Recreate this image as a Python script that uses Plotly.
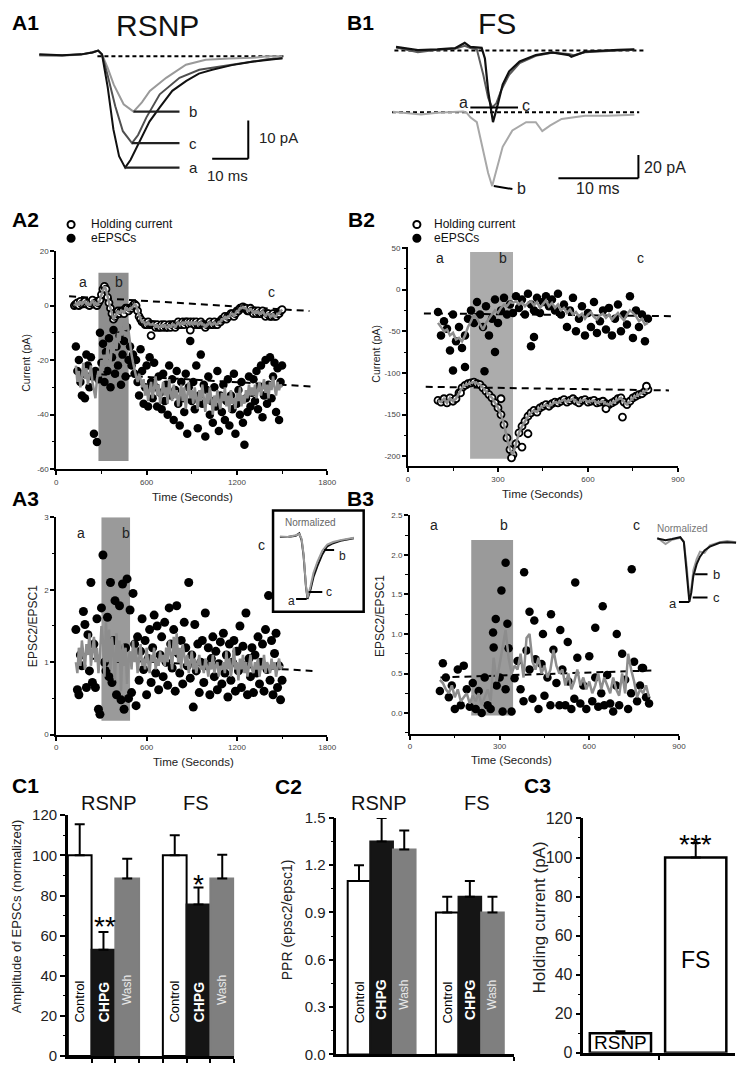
import plotly.graph_objects as go

# The page places the plot 8 px from the top-left corner; the figure is sized so that it ends at 750x1069.
OX, OY = 8, 8
W, H = 742, 1061
FONT = "Liberation Sans, Arial, sans-serif"

# ======================= DATA =======================
# A1  RSNP averaged eEPSC traces (time ms, current pA)
a1_time_a = [2, 8, 13, 16, 17.5, 18.5, 20, 21.5, 23, 24.6, 26, 28.5, 31, 33.7, 37, 40.7, 44, 47.5, 52.7, 58, 62, 66]
a1_trace_a = [0.5, 0.3, 0.5, 1, 1.5, 0.5, -8, -19, -26, -29, -27, -21.8, -17, -13.3, -9, -6.4, -4.5, -3.5, -2.3, -1.4, -1, -0.5]
a1_time_c = [2, 8, 13, 16, 17.5, 18.5, 20, 22, 24, 26.4, 28, 30.2, 33.7, 38.9, 44.1, 51, 58, 62, 66]
a1_trace_c = [0.3, 0.2, 0.5, 1, 1.5, 0.5, -5, -13, -19.5, -22.6, -20.5, -15.9, -9.9, -5.6, -3.5, -2.4, -1.4, -0.8, -0.5]
a1_time_b = [2, 8, 13, 16, 17.5, 18.5, 20, 21.6, 24.2, 26.8, 29, 31.1, 35.4, 40.6, 45.8, 52, 58, 62, 66]
a1_trace_b = [0.3, 0.2, 0.4, 1, 1.5, 0.5, -3, -7.4, -12.5, -14.4, -12, -9, -5.6, -2.2, -0.9, -0.6, -0.4, 0, 0]

# B1  FS averaged eEPSC traces (time ms, current pA)
b1_time_a = [1.2, 3.9, 6.3, 8.5, 9.7, 10.4, 11.8, 12.2, 12.6, 13.2, 13.8, 14.4, 15.2, 16.5, 18.5, 20.5, 22.6, 22.9, 24.6, 26.6, 28.7, 30.7]
b1_trace_a = [3, 0.3, 1, 2, 6.4, 3, 2.2, -6.7, -34, -60.8, -45.6, -28.9, -17.8, -9.4, -3.9, -1.7, -3.9, -5.3, -1, 0, 0.5, 1]
b1_time_c = [1.2, 3.9, 6.3, 8.5, 9.7, 10.4, 11.2, 12, 12.6, 13.1, 13.6, 14.2, 15.2, 16.5, 18.5, 20.5, 22.6, 23.2, 24.6, 26.6, 28.7, 30.7]
b1_trace_c = [2.5, -1.5, 0.5, 1.5, 4, 2, 1, -20.6, -40, -48.3, -45, -34, -20.6, -10.8, -4.5, -2, -3, -4, -1.5, -0.5, 0, 0.5]
b1_time_b = [0.8, 4.3, 6.3, 9.5, 9.9, 10.4, 11.2, 12, 12.6, 13.1, 13.8, 14.4, 15.6, 17.3, 18.5, 19.3, 20.3, 21.7, 24.6, 27.4, 30.7]
b1_trace_b = [0.6, -1.9, -0.3, 0.8, 0, -4.2, -8.3, -31.9, -51.4, -62.5, -45.8, -29.2, -15.3, -8.3, -8.3, -15.8, -11.1, -5.6, -2.8, -2.8, -2]

# A2  RSNP time course (s); holding current and eEPSC amplitude (pA)
a2_hold_t0, a2_hold_dt = 120, 10
a2_hold = [0, 0.5, 1, 0, 1.5, 0.5, 1, 1.5, 0.5, 1, 0, 1, 2, 0.5, 1, 0, 1,
           2, 4, 6, 7, 6, 3, 1,
           -1, -3, -5, -4, -3, -2, -3,
           -2, -2, -3, -1, -1, -2, -1, -1,
           0, 0.5, 0, -2, -4, -5,
           -6, -6, -7, -7, -6, -7, -7, -7, -7, -8, -7, -8, -8, -7,
           -8, -7, -8, -8, -7, -8, -7, -7, -8, -7, -6, -7, -7, -6, -7, -6, -6, -7, -6, -7,
           -6, -7, -6, -7, -7, -6, -7, -7, -8, -7, -7, -6, -7, -7, -6, -7, -7, -6, -6, -5,
           -5, -4, -5, -4, -4, -3, -3, -4, -3, -2, -2, -1, -1, -0.5, -1,
           -1, -2, -2, -1, -2, -3, -2, -3, -2, -3, -3, -2, -3, -4, -3, -3, -4, -4, -3, -4, -4, -3, -3, -2, -1.5]
a2_hold_out_t = [630, 890]
a2_hold_out = [-11, -9]
a2_epsc_t0, a2_epsc_dt = 130, 10
a2_epsc = [-15, -24, -20, -28, -33, -25, -34, -18,
           -22, -30, -19, -26, -47, -24, -50, -27,
           -10, -21, -14, -28, -17, -24, -12, -30, -19, -9, -25, -15, -22, -11, -29, -18, -13, -26, -8, -20,
           -15, -22, -18, -25, -20, -28, -33, -16,
           -24, -36, -30, -22, -37, -19, -28, -34, -21, -30, -37, -26, -32, -38,
           -25, -35, -29, -40, -22, -33, -27, -42, -31, -24, -36, -44, -28, -34, -39, -25, -47, -30, -13, -35,
           -28, -38, -22, -45, -33, -18, -36, -29, -48, -31, -26, -40, -35, -43, -30, -37, -24, -46, -33, -39,
           -29, -42, -35, -27, -44, -33, -38, -25, -47, -36, -31, -40, -28, -43, -51, -34, -39, -26, -37, -32,
           -27, -35, -24, -38, -30, -22, -41, -33, -20, -36, -29, -19, -34, -26, -21, -39, -23, -42, -28, -22]
a2_epsc_avg = [-22, -28, -24, -30, -26, -21, -27, -23, -29, -25, -22, -28, -31, -34, -27, -24,
               -26, -20, -24, -18, -22, -15, -19, -21, -14, -17, -12, -16, -10, -13, -8, -11, -6, -9, -5, -10,
               -14, -18, -21, -24, -26, -28, -25, -27,
               -30, -27, -33, -29, -35, -31, -28, -34, -30, -26, -33, -29, -36, -31,
               -28, -33, -30, -36, -27, -32, -35, -29, -34, -31, -37, -33, -29, -35, -30, -38, -32, -28, -34, -31,
               -36, -30, -34, -38, -31, -35, -29, -33, -39, -32, -36, -30, -34, -40, -33, -37, -31, -35, -38, -32,
               -35, -30, -37, -33, -39, -31, -36, -34, -38, -32, -35, -30, -37, -33, -36, -31, -34, -29, -33, -30,
               -33, -29, -34, -31, -28, -33, -30, -27, -32, -29, -34, -28, -31, -26, -30, -33, -28, -31, -29, -30]
a2_fit_hold_t, a2_fit_hold = [85, 1682], [3.4, -2.0]
a2_fit_epsc_t, a2_fit_epsc = [130, 1702], [-24.7, -29.7]
a2_drug = [280, 480]

# B2  FS time course
b2_t0, b2_dt = 100, 10
b2_hold = [-133, -135, -131, -136, -130, -134, -131,
           -124, -118, -115, -113,
           -112, -111, -113, -114, -118, -122,
           -126, -130, -136, -142, -150, -162, -178, -192,
           -198,
           -185, -172, -164, -158, -152, -148, -145,
           -147, -142, -140, -138, -140, -137, -135, -136,
           -134, -132, -135, -133, -131, -134, -136, -133, -132, -135, -134, -133, -136, -135, -134, -137, -138, -136, -134, -131,
           -130, -135, -138, -134, -130, -128, -126, -125, -122, -120]
b2_hold_out_t = [175, 310, 345, 380, 400, 660, 715, 795]
b2_hold_out = [-124, -131, -202, -189, -173, -143, -153, -116]
b2_epsc = [-27, -55, -38, -47, -73, -30, -62, -45, -70, -55, -35,
           -25, -40, -15, -30, -45, -20, -55, -35, -12, -40, -25, -10, -30, -18, -28,
           -8, -22, -12, -30, -5, -18, -25, -10, -28, -15, -8, -20, -12, -25, -5,
           -30, -18, -45, -25, -10, -50, -35, -20, -55, -28, -45, -15, -52, -38, -25,
           -48, -22, -55, -35, -18, -50, -30, -42, -8, -58, -25, -45, -30, -62, -35]
b2_epsc_out_t = [150, 190, 255, 290, 410, 420]
b2_epsc_out = [-97, -93, -98, -75, -68, -57]
b2_epsc_avg = [-40, -45, -50, -48, -55, -52, -60, -58, -62, -55, -45,
               -38, -30, -35, -42, -48, -40, -35, -30, -25, -28, -22, -18, -20, -15, -16,
               -14, -18, -15, -20, -16, -14, -19, -15, -22, -17, -13, -20, -16, -22, -18,
               -25, -22, -28, -24, -30, -27, -32, -29, -35, -30, -27, -33, -36, -31, -29,
               -34, -30, -36, -32, -28, -33, -37, -30, -25, -28, -32, -38, -35, -42, -40]
b2_fit_epsc_t, b2_fit_epsc = [53, 880], [-28.6, -32]
b2_fit_hold_t, b2_fit_hold = [59, 870], [-116.7, -121]
b2_drug = [207, 350]

# A3  RSNP paired-pulse ratio
a3_t0, a3_dt = 130, 10
a3_ppr = [1.45, 0.62, 0.55, 1.1, 0.95, 1.7, 1.52, 0.65, 1.38, 0.88, 2.1, 0.72, 1.25, 0.65, 1.6, 0.35,
          0.28, 1.75, 2.48, 1.0, 0.88, 1.62, 0.8, 2.1, 0.72, 1.3, 1.85, 0.55, 1.05, 1.78, 0.48, 2.08, 0.35, 1.2, 2.15, 0.5,
          1.72, 0.58, 1.95, 1.25, 0.4, 1.35, 0.75, 1.15, 1.6, 0.9, 1.3, 0.55, 1.05, 1.45, 0.72, 1.2, 1.65, 0.85, 1.5, 0.62, 1.1, 1.35,
          0.8, 1.55, 1.0, 0.68, 1.75, 1.25, 0.92, 1.45, 0.6, 1.78, 1.12, 0.85, 1.3, 0.7, 1.55, 1.2, 0.95, 2.1, 0.78, 1.1,
          0.38, 1.52, 0.88, 1.25, 0.58, 1.0, 1.3, 0.72, 1.68, 0.95, 1.2, 0.55, 1.05, 1.35, 0.8, 1.15, 0.62, 0.98, 1.28, 0.7,
          1.4, 0.85, 1.1, 0.52, 1.25, 0.75, 1.0, 1.3, 0.6, 1.15, 0.88, 1.5, 0.65, 1.22, 0.95, 1.68, 0.55, 1.05, 0.8, 1.2,
          0.58, 1.1, 0.85, 1.35, 0.7, 1.0, 1.25, 0.6, 1.45, 0.9, 1.92, 0.75, 1.3, 0.55, 1.12, 1.4, 0.65, 0.95, 0.48, 0.75]
a3_ppr_avg = [1.0, 0.85, 1.2, 0.95, 1.3, 1.05, 0.9, 1.25, 1.1, 1.4, 0.95, 1.15, 1.35, 1.0, 1.2, 0.85,
              1.1, 1.5, 1.3, 0.8, 1.55, 1.0, 1.45, 0.9, 1.35, 1.1, 0.75, 1.4, 1.0, 1.3, 0.6, 1.25, 0.95, 1.2, 0.7, 1.05,
              1.15, 0.9, 1.3, 1.0, 1.2, 0.85, 1.1, 1.25, 0.95, 1.05, 0.9, 1.2, 1.0, 0.85, 1.1, 1.0, 1.2, 0.9, 1.05, 0.95, 1.15, 1.0,
              1.1, 0.95, 1.2, 1.0, 1.3, 1.05, 0.9, 1.35, 1.1, 1.4, 1.0, 1.2, 0.9, 1.25, 1.05, 0.95, 1.1, 0.85, 1.0, 1.15,
              0.9, 1.05, 0.85, 1.0, 1.1, 0.9, 0.95, 0.85, 1.05, 0.95, 0.8, 1.0, 0.9, 1.1, 0.85, 0.95, 1.0, 0.8, 0.95, 0.9,
              1.0, 0.85, 1.15, 0.9, 1.05, 0.8, 0.95, 1.2, 0.9, 1.0, 0.75, 1.05, 0.9, 1.1, 0.85, 1.0, 0.8, 0.95, 1.1, 0.9,
              0.85, 1.0, 0.9, 1.05, 0.8, 0.95, 0.9, 1.1, 0.85, 1.0, 0.95, 0.85, 1.05, 0.9, 1.0, 0.8, 0.95, 1.05, 0.9, 0.95]
a3_fit_t, a3_fit = [144, 1702], [1.06, 0.88]
a3_drug = [300, 490]

# B3  FS paired-pulse ratio
b3_t0, b3_dt = 100, 10
b3_ppr = [0.28, 0.63, 0.45, 0.2, 0.35, 0.05, 0.55, 0.1, 0.6, 0.3, 0.08,
          0.38, 0.05, 0.28, 0.0, 0.45, 0.1, 0.05, 0.83, 0.35, 0.45, 0.02, 0.3, 0.82, 0.02, 0.44,
          0.66, 0.3, 0.15, 0.79, 0.55, 0.18, 0.68, 0.05, 0.62, 0.22, 0.45, 0.1, 0.8, 0.38, 0.1,
          0.55, 0.1, 0.4, 0.05, 0.18, 0.7, 0.12, 0.35, 0.05, 0.72, 0.15, 0.45, 0.08, 0.25, 0.1,
          0.48, 0.12, 0.02, 0.35, 0.1, 0.75, 0.42, 0.05, 0.25, 0.65, 0.15, 0.35, 0.57, 0.2, 0.12]
b3_ppr_out_t = [278, 287, 306, 320, 326, 382, 400, 416, 445, 472, 503, 528, 553, 620, 645, 692, 742, 776]
b3_ppr_out = [1.02, 1.19, 1.55, 1.9, 1.13, 1.78, 1.28, 1.17, 1.0, 1.25, 1.05, 0.9, 1.65, 1.08, 1.35, 1.0, 1.82, 0.57]
b3_ppr_avg = [0.42, 0.38, 0.3, 0.25, 0.35, 0.2, 0.3, 0.15, 0.2, 0.25, 0.12,
              0.22, 0.15, 0.25, 0.1, 0.2, 0.3, 0.15, 0.7, 0.4, 0.6, 0.8, 1.05, 0.7, 0.5, 0.6,
              0.55, 0.75, 0.45, 0.95, 1.0, 0.65, 0.55, 0.7, 0.5, 0.6, 0.45, 0.55, 0.8, 0.6, 0.5,
              0.55, 0.35, 0.5, 0.3, 0.4, 0.55, 0.35, 0.45, 0.3, 0.4, 0.25, 0.35, 0.5, 0.3, 0.45,
              0.35, 0.25, 0.45, 0.3, 0.22, 0.5, 0.25, 0.75, 0.55, 0.4, 0.2, 0.3, 0.25, 0.35, 0.2]
b3_fit_t, b3_fit = [102, 818], [0.45, 0.54]
b3_drug = [205, 345]

# A3 / B3 insets: normalized EPSC traces
a3i_time = [1, 5, 9, 10.8, 12, 13, 14.2, 15, 16.5, 18, 20, 22.5, 25, 28, 31.7, 35, 38.5]
a3i_black = [0, 0, 0.02, 0.06, -0.05, -0.3, -0.8, -1, -0.85, -0.65, -0.47, -0.28, -0.15, -0.1, -0.06, -0.04, -0.02]
a3i_gray = [0.01, 0, 0.03, 0.05, -0.03, -0.28, -0.78, -0.98, -0.8, -0.58, -0.4, -0.22, -0.12, -0.08, -0.05, -0.03, -0.01]
b3i_time = [2.5, 6.7, 10, 14.2, 16, 17.5, 18.8, 19.8, 20.8, 22.5, 24.2, 26.5, 29.2, 34.2, 38, 42.5]
b3i_black = [0.01, -0.02, 0, 0.03, -0.05, -0.5, -1, -0.85, -0.59, -0.4, -0.28, -0.18, -0.12, -0.06, -0.05, -0.06]
b3i_gray = [0.02, -0.08, -0.01, 0.02, -0.04, -0.45, -0.95, -0.78, -0.5, -0.32, -0.2, -0.22, -0.1, -0.05, -0.03, -0.05]

# C panels
c_groups = ["RSNP", "FS"]
c_conditions = ["Control", "CHPG", "Wash"]
c1_amp = [100, 53, 88.5, 100, 75.5, 88.5]
c1_amp_err = [15.5, 8.8, 9.8, 10, 8.5, 11.8]
c2_ppr = [1.1, 1.35, 1.3, 0.9, 1.0, 0.9]
c2_ppr_err = [0.1, 0.15, 0.12, 0.1, 0.1, 0.1]
c3_cells = ["RSNP", "FS"]
c3_hold = [10, 100]
c3_hold_err = [1, 7.5]

# ======================= HELPERS =======================
fig = go.Figure()
shapes, anns = [], []
A1, B1, A2, B2, A3, B3, C1, C2, C3, A3I, B3I = "", "2", "3", "4", "5", "6", "7", "8", "9", "10", "11"
GRAYLINE = "#8d8d8d"


def P(x, y):
    return (x - OX) / W, 1 - (y - OY) / H


def dx(a, b):
    return [max(0, (a - OX) / W), min(1, (b - OX) / W)]


def dy(top, bottom):
    return [max(0, 1 - (bottom - OY) / H), min(1, 1 - (top - OY) / H)]


def text(s, x, y, size, color="black", bold=False, angle=0, xanchor="center", yanchor="middle", ax=None):
    if bold:
        s = "<b>" + s + "</b>"
    if ax is None:
        xx, yy = P(x, y)
        xr = yr = "paper"
    else:
        xx, yy, xr, yr = x, y, "x" + ax, "y" + ax
    anns.append(dict(text=s, x=xx, y=yy, xref=xr, yref=yr, showarrow=False, textangle=angle,
                     xanchor=xanchor, yanchor=yanchor,
                     font=dict(size=size, color=color, family=FONT)))


def line(ax, x, y, color="black", width=2, dash=None):
    fig.add_trace(go.Scatter(x=x, y=y, mode="lines", line=dict(color=color, width=width, dash=dash),
                             xaxis="x" + ax, yaxis="y" + ax, hoverinfo="skip", showlegend=False))


def pts(ax, x, y, size, filled=True):
    fig.add_trace(go.Scatter(x=x, y=y, mode="markers",
                             marker=dict(size=size, color="black" if filled else "white",
                                         line=dict(color="black", width=0 if filled else 1.8)),
                             xaxis="x" + ax, yaxis="y" + ax, hoverinfo="skip", showlegend=False))


def seg(ax, x0, y0, x1, y1, width=2, color="black"):
    shapes.append(dict(type="line", xref="x" + ax, yref="y" + ax, x0=x0, y0=y0, x1=x1, y1=y1,
                       line=dict(color=color, width=width)))


def rect(ax, x0, x1, y0, y1, color):
    shapes.append(dict(type="rect", xref="x" + ax, yref="y" + ax, x0=x0, x1=x1, y0=y0, y1=y1,
                       fillcolor=color, line=dict(width=0), layer="below"))


def times(t0, dt, n):
    return [t0 + dt * i for i in range(n)]


def argmin(xs, ys):
    i = min(range(len(ys)), key=lambda k: ys[k])
    return xs[i], ys[i]


SHORTDASH = "4px,3px"
LONGDASH = "7px,5px"

# ======================= A1 =======================
line(A1, [17.3, 67], [0, 0], "black", 2, SHORTDASH)
line(A1, a1_time_b, a1_trace_b, "#9a9a9a", 2)
line(A1, a1_time_c, a1_trace_c, "#505050", 2)
line(A1, a1_time_a, a1_trace_a, "#111111", 2)
for tt, vv, lab in [(a1_time_b, a1_trace_b, "b"), (a1_time_c, a1_trace_c, "c"), (a1_time_a, a1_trace_a, "a")]:
    mt, mv = argmin(tt, vv)
    seg(A1, mt, mv, 38.9, mv, 2.2, "#222")
    text(lab, 41, mv, 15, "#222", xanchor="left", ax=A1)
seg(A1, 57, -16.7, 57, -26.7, 2)
seg(A1, 47.5, -26.7, 57, -26.7, 2)
text("10 pA", 59.2, -21.2, 15, "#222", xanchor="left", ax=A1)
text("10 ms", 51.5, -31, 15, "#222", ax=A1)

# ======================= B1 =======================
B1_STACK = -52.5  # vertical display offset of the CHPG trace
line(B1, [1, 32.1], [0, 0], "black", 2, SHORTDASH)
line(B1, [0.7, 31.3], [B1_STACK, B1_STACK], "black", 2, SHORTDASH)
line(B1, b1_time_b, [v + B1_STACK for v in b1_trace_b], "#a8a8a8", 2)
line(B1, b1_time_c, b1_trace_c, "#5a5a5a", 2)
line(B1, b1_time_a, b1_trace_a, "#111111", 2.2)
_, cmin = argmin(b1_time_c, b1_trace_c)
seg(B1, 10.4, cmin, 16.3, cmin, 2)
text("a", 9.6, cmin + 4.5, 16, "#222", ax=B1)
text("c", 16.6, cmin + 1.5, 16, "#222", xanchor="left", ax=B1)
bt, bv = argmin(b1_time_b, b1_trace_b)
seg(B1, bt + 0.2, bv + B1_STACK, 15.6, bv + B1_STACK - 2.5, 2)
text("b", 15.9, bv + B1_STACK - 2, 16, "#222", xanchor="left", ax=B1)
seg(B1, 31.2, -88.6, 31.2, -108.3, 2)
seg(B1, 21.3, -108.3, 31.2, -108.3, 2)
text("20 pA", 31.7, -99, 16, "#222", xanchor="left", ax=B1)
text("10 ms", 26.2, -117, 16, "#222", ax=B1)

# ======================= A2 =======================
rect(A2, a2_drug[0], a2_drug[1], -57, 12, "#8e8e8e")
ht = times(a2_hold_t0, a2_hold_dt, len(a2_hold))
et = times(a2_epsc_t0, a2_epsc_dt, len(a2_epsc))
line(A2, a2_fit_hold_t, a2_fit_hold, "black", 2, LONGDASH)
line(A2, a2_fit_epsc_t, a2_fit_epsc, "black", 2, LONGDASH)
pts(A2, ht, a2_hold, 7, filled=False)
pts(A2, a2_hold_out_t, a2_hold_out, 7, filled=False)
line(A2, ht, a2_hold, GRAYLINE, 2.5)
pts(A2, et, a2_epsc, 8.5)
line(A2, et, a2_epsc_avg, GRAYLINE, 2.5)
text("a", 177, 8.5, 14, "#222", ax=A2)
text("b", 419, 8.5, 14, "#222", ax=A2)
text("c", 1427, 4.9, 14, "#222", ax=A2)

# ======================= B2 =======================
rect(B2, b2_drug[0], b2_drug[1], -203, 45, "#acacac")
bt2 = times(b2_t0, b2_dt, len(b2_hold))
line(B2, b2_fit_epsc_t, b2_fit_epsc, "black", 2, LONGDASH)
line(B2, b2_fit_hold_t, b2_fit_hold, "black", 2, LONGDASH)
pts(B2, bt2, b2_epsc, 8.5)
pts(B2, b2_epsc_out_t, b2_epsc_out, 8.5)
line(B2, bt2, b2_epsc_avg, GRAYLINE, 2.5)
pts(B2, bt2, b2_hold, 7, filled=False)
pts(B2, b2_hold_out_t, b2_hold_out, 7, filled=False)
line(B2, bt2, b2_hold, GRAYLINE, 2.5)
text("a", 108, 38, 14, "#222", ax=B2)
text("b", 316, 38, 14, "#222", ax=B2)
text("c", 775, 38, 14, "#222", ax=B2)

# ======================= A3 =======================
rect(A3, a3_drug[0], a3_drug[1], 0.19, 3.0, "#9a9a9a")
at3 = times(a3_t0, a3_dt, len(a3_ppr))
line(A3, a3_fit_t, a3_fit, "black", 2, LONGDASH)
pts(A3, at3, a3_ppr, 9)
line(A3, at3, a3_ppr_avg, GRAYLINE, 2.5)
text("a", 164, 2.78, 14, "#222", ax=A3)
text("b", 465, 2.78, 14, "#222", ax=A3)
text("c", 1362, 2.62, 14, "#222", ax=A3)

# A3 inset
bx0, by1 = P(275, 510)
bx1, by0 = P(367, 613)
shapes.append(dict(type="rect", xref="paper", yref="paper", x0=bx0, x1=bx1, y0=by0, y1=by1,
                   line=dict(color="black", width=2.5), fillcolor="rgba(0,0,0,0)"))
line(A3I, a3i_time, a3i_black, "#111", 2)
line(A3I, a3i_time, a3i_gray, "#9a9a9a", 2)
seg(A3I, 9.2, -1, 14.6, -1, 2)
text("a", 6.7, -1.03, 12, "#222", ax=A3I)
seg(A3I, 15.6, -0.89, 22.5, -0.89, 2)
text("c", 23.3, -0.89, 12, "#222", xanchor="left", ax=A3I)
seg(A3I, 23.5, -0.21, 28.5, -0.21, 2)
text("b", 30, -0.3, 12, "#222", xanchor="left", ax=A3I)
text("Normalized", 16.5, 0.24, 10, "#666", ax=A3I)

# ======================= B3 =======================
rect(B3, b3_drug[0], b3_drug[1], -0.03, 2.19, "#9a9a9a")
bt3 = times(b3_t0, b3_dt, len(b3_ppr))
line(B3, b3_fit_t, b3_fit, "black", 2, LONGDASH)
pts(B3, bt3, b3_ppr, 8.5)
pts(B3, b3_ppr_out_t, b3_ppr_out, 8.5)
line(B3, bt3, b3_ppr_avg, GRAYLINE, 2.5)
text("a", 79, 2.38, 14, "#222", ax=B3)
text("b", 316, 2.38, 14, "#222", ax=B3)
text("c", 758, 2.38, 14, "#222", ax=B3)

# B3 inset
line(B3I, b3i_time, b3i_gray, "#9a9a9a", 2)
line(B3I, b3i_time, b3i_black, "#111", 2)
seg(B3I, 13.5, -1.0, 18.8, -1.0, 2)
text("a", 10.5, -1.03, 13, "#222", ax=B3I)
seg(B3I, 20.5, -0.93, 28, -0.93, 2)
text("c", 30, -0.93, 13, "#222", xanchor="left", ax=B3I)
seg(B3I, 21.7, -0.56, 28, -0.56, 2)
text("b", 30, -0.56, 13, "#222", xanchor="left", ax=B3I)
text("Normalized", 15.5, 0.17, 10, "#777", ax=B3I)

# ======================= C panels =======================
cond_fill = {"Control": "white", "CHPG": "#151515", "Wash": "#7f7f7f"}
cond_line = {"Control": "black", "CHPG": "#151515", "Wash": "#7f7f7f"}


def bars(ax, xs, vals, errs, fills, lines, lw=2):
    fig.add_trace(go.Bar(x=xs, y=vals, width=1, marker=dict(color=fills, line=dict(color=lines, width=lw)),
                         error_y=dict(type="data", symmetric=False, array=errs, arrayminus=[0] * len(errs),
                                      color="black", thickness=2, width=5),
                         xaxis="x" + ax, yaxis="y" + ax, hoverinfo="skip", showlegend=False))


c1_x = [g * 4 + c + 0.5 for g in range(2) for c in range(3)]
c2_x = [g * 3.9 + c + 1.0 for g in range(2) for c in range(3)]
conds6 = [c for g in range(2) for c in c_conditions]
bars(C1, c1_x, c1_amp, c1_amp_err, [cond_fill[c] for c in conds6], [cond_line[c] for c in conds6])
bars(C2, c2_x, c2_ppr, c2_ppr_err, [cond_fill[c] for c in conds6], [cond_line[c] for c in conds6])
c3_x = [0.605, 1.835]
bars(C3, c3_x, c3_hold, c3_hold_err, ["white", "white"], ["black", "black"], 2.5)

c1_lab_y = {"Control": 27, "CHPG": 27, "Wash": 33}
c2_lab_y = {"Control": 0.33, "CHPG": 0.35, "Wash": 0.38}
for x1, x2, c in zip(c1_x, c2_x, conds6):
    col = {"Control": "black", "CHPG": "white", "Wash": "#e8e8e8"}[c]
    sz = {"Control": 13, "CHPG": 14, "Wash": 12}[c]
    bold = c == "CHPG"
    text(c, x1, c1_lab_y[c], sz, col, bold=bold, angle=-90, ax=C1)
    text(c, x2, c2_lab_y[c], sz, col, bold=bold, angle=-90, ax=C2)
text("**", 1.55, 64.5, 28, "black", ax=C1)
text("*", 5.5, 85.5, 28, "black", ax=C1)
text(c3_cells[0], c3_x[0], 5.5, 19, "black", ax=C3)
text(c3_cells[1], c3_x[1], 47.7, 23, "black", ax=C3)
text("***", c3_x[1], 106.5, 28, "black", ax=C3)

text(c_groups[0], 108, 808, 20, "#111")
text(c_groups[1], 197, 808, 20, "#111")
text(c_groups[0], 383, 808, 20, "#111")
text(c_groups[1], 482, 808, 20, "#111")

# ======================= panel letters & titles =======================
for lab, x, y in [("A1", 8, 14), ("B1", 348, 14), ("A2", 8, 214), ("B2", 349, 214), ("A3", 8, 498),
                  ("B3", 348, 498), ("C1", 8, 790), ("C2", 275, 791), ("C3", 528, 790)]:
    text(lab, x, y, 21, "black", bold=True, xanchor="left")
text("RSNP", 158, 17, 30, "#111")
text("FS", 502, 15, 30, "#111")

text("Current (pA)", 24, 360, 10.5, "#222", angle=-90)
text("Time (Seconds)", 193, 496, 11.5, "#222")
text("Current (pA)", 380, 350, 10.5, "#222", angle=-90)
text("Time (Seconds)", 549, 493, 11.5, "#222")
text("EPSC2/EPSC1", 32, 628, 12, "#222", angle=-90)
text("Time (Seconds)", 194, 766, 11.5, "#222")
text("EPSC2/EPSC1", 383, 617, 12, "#222", angle=-90)
text("Time (Seconds)", 517, 764, 11.5, "#222")
text("Amplitude of EPSCs (normalized)", 15, 923, 13, "#222", angle=-90)
text("PPR (epsc2/epsc1)", 290, 926, 14, "#222", angle=-90)
text("Holding current (pA)", 545, 924, 17, "#222", angle=-90)

# legends A2 / B2
for mx, tx in [(70, 88), (421, 436)]:
    for yy, open_marker, lab in [(219, True, "Holding current"), (233, False, "eEPSCs")]:
        r = 3.6
        cx0, cy1 = P(mx - r, yy - r)
        cx1, cy0 = P(mx + r, yy + r)
        shapes.append(dict(type="circle", xref="paper", yref="paper", x0=cx0, x1=cx1, y0=cy0, y1=cy1,
                           fillcolor="white" if open_marker else "black", line=dict(color="black", width=2)))
        text(lab, tx, yy, 12, "#111", xanchor="left")


# ======================= AXES =======================
def hidden(domx, domy, rx, ry, n):
    return ({"domain": domx, "range": rx, "visible": False, "fixedrange": True, "anchor": "y" + n},
            {"domain": domy, "range": ry, "visible": False, "fixedrange": True, "anchor": "x" + n})


def tickaxis(domain, rng, vals, labels, minor_dtick, anchor, size=8, color="#444", lw=2, ticklen=4):
    return dict(domain=domain, range=rng, anchor=anchor, showline=True, linecolor="black", linewidth=lw,
                ticks="outside", ticklen=ticklen, tickwidth=1.5, tickcolor="black",
                tickmode="array", tickvals=vals, ticktext=labels,
                tickfont=dict(size=size, color=color, family=FONT),
                showgrid=False, zeroline=False, fixedrange=True,
                minor=dict(ticks="outside", ticklen=2.5, tickwidth=1, tickcolor="black", dtick=minor_dtick,
                           tick0=0, showgrid=False))


def labs(vals, fmt="{:g}"):
    return [fmt.format(v) for v in vals]


lay = {}
for key, (xd, yd) in {
    "": hidden(dx(30, 300), dy(30, 180), [0, 70], [-33.8, 4.6], ""),
    "2": hidden(dx(390, 720), dy(25, 195), [0, 40.24], [-127.5, 14.2], "2"),
    "10": hidden(dx(280, 362), dy(515, 610), [0, 41], [-1.16, 0.35], "10"),
    "11": hidden(dx(660, 750), dy(525, 610), [0, 45], [-1.11, 0.22], "11"),
}.items():
    lay["xaxis" + key] = xd
    lay["yaxis" + key] = yd

tx18 = [0, 600, 1200, 1800]
tx9 = [0, 300, 600, 900]
lay["xaxis3"] = tickaxis(dx(55, 330), [0, 1800], tx18, labs(tx18), 300, "y3")
lay["yaxis3"] = tickaxis(dy(246, 468), [-60, 20], [-60, -40, -20, 0, 20], labs([-60, -40, -20, 0, 20]), 10, "x3")
lay["xaxis4"] = tickaxis(dx(412, 686), [0, 900], tx9, labs(tx9), 150, "y4")
lay["yaxis4"] = tickaxis(dy(242, 465), [-212, 51], [-200, -150, -100, -50, 0, 50],
                         labs([-200, -150, -100, -50, 0, 50]), 25, "x4")
lay["xaxis5"] = tickaxis(dx(55, 330), [0, 1800], tx18, labs(tx18), 300, "y5")
lay["yaxis5"] = tickaxis(dy(517, 738), [0, 3], [0, 1, 2, 3], labs([0, 1, 2, 3]), 0.5, "x5")
lay["xaxis6"] = tickaxis(dx(414, 687), [0, 900], tx9, labs(tx9), 150, "y6")
b3v = [0, 0.5, 1.0, 1.5, 2.0, 2.5]
lay["yaxis6"] = tickaxis(dy(515, 737), [-0.26, 2.5], b3v, labs(b3v, "{:.1f}"), 0.25, "x6")

c1v = [0, 20, 40, 60, 80, 100, 120]
c2v = [0, 0.3, 0.6, 0.9, 1.2, 1.5]
for n, dxx, dyy, rx, ry, vals, lb, mdt, fs, xt in [
    ("7", dx(66.7, 235.5), dy(820, 1065), [0, 7], [0, 120], c1v, labs(c1v), 10, 15, [1, 2, 3, 4, 5, 6, 7]),
    ("8", dx(339.3, 520), dy(822.7, 1063.3), [0, 7.87], [0, 1.5], c2v, labs(c2v, "{:.1f}"), 0.15, 15, [7.87]),
    ("9", dx(590, 743.5), dy(823.3, 1061.7), [0, 2.47], [0, 120], c1v, labs(c1v), 10, 16, [1.24]),
]:
    lay["xaxis" + n] = dict(domain=dxx, range=rx, anchor="y" + n, showline=True, linecolor="black", linewidth=2.5,
                            ticks="outside", ticklen=4, tickwidth=1.5, tickcolor="black",
                            tickmode="array", tickvals=xt, showticklabels=False,
                            showgrid=False, zeroline=False, fixedrange=True)
    lay["yaxis" + n] = tickaxis(dyy, ry, vals, lb, mdt, "x" + n, size=fs, color="#222", lw=2.5, ticklen=5)

fig.update_layout(
    width=W, height=H, margin=dict(l=0, r=0, t=0, b=0),
    paper_bgcolor="white", plot_bgcolor="white", showlegend=False,
    font=dict(family=FONT, color="black"),
    shapes=shapes, annotations=anns, barmode="overlay",
    **lay,
)

fig.write_html("out.html")
